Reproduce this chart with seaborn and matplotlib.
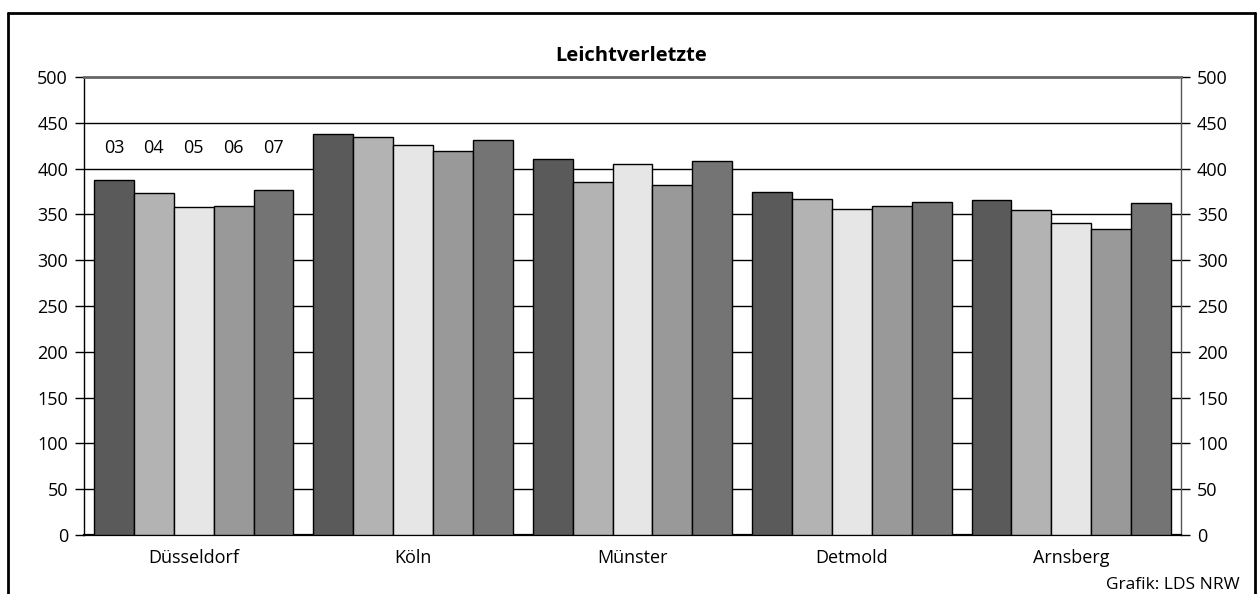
import matplotlib
matplotlib.use("Agg")
import matplotlib.pyplot as plt
from matplotlib.lines import Line2D
import seaborn as sns
import pandas as pd

# Leichtverletzte je Regierungsbezirk, Jahre 2003-2007
regions = ["Düsseldorf", "Köln", "Münster", "Detmold", "Arnsberg"]
years = ["03", "04", "05", "06", "07"]
values_03 = [388, 438, 410, 375, 366]
values_04 = [373, 434, 385, 367, 355]
values_05 = [358, 426, 405, 356, 341]
values_06 = [359, 419, 382, 359, 334]
values_07 = [377, 431, 408, 364, 362]
bar_colors = ["#5a5a5a", "#b3b3b3", "#e6e6e6", "#999999", "#747474"]

rows = []
for year, vals in zip(years, [values_03, values_04, values_05, values_06, values_07]):
    for region, v in zip(regions, vals):
        rows.append({"region": region, "year": year, "value": v})
df = pd.DataFrame(rows)

sns.set_theme(style="white")
plt.rcParams["font.family"] = ["Open Sans", "DejaVu Sans"]
plt.rcParams["text.color"] = "black"
plt.rcParams["xtick.color"] = "black"
plt.rcParams["ytick.color"] = "black"

fig = plt.figure(figsize=(12.58, 5.94), dpi=100)
ax = fig.add_axes([84 / 1258, 1 - 535 / 594, (1181 - 84) / 1258, (535 - 77) / 594])

sns.barplot(data=df, x="region", y="value", hue="year", order=regions,
            hue_order=years, palette=bar_colors, saturation=1, width=0.909,
            gap=0, edgecolor="black", linewidth=1, legend=False, ax=ax,
            zorder=3)

ax.set_xlim(-0.5, 4.5)
ax.set_ylim(0, 500)
ax.set_yticks(range(0, 501, 50))
ax.set_xlabel("")
ax.set_ylabel("")

# horizontal grid behind bars
for yv in range(50, 500, 50):
    ax.axhline(yv, color="black", lw=1, zorder=1)

for side in ["left", "bottom"]:
    ax.spines[side].set_color("black")
ax.spines["left"].set_linewidth(1)
ax.spines["bottom"].set_linewidth(1.6)
ax.spines["right"].set_color("#555555")
ax.spines["right"].set_linewidth(1)
ax.spines["top"].set_color("#666666")
ax.spines["top"].set_linewidth(2)

ax.tick_params(axis="y", left=True, right=True, labelleft=True, labelright=True,
               direction="out", length=6.5, width=1, color="black",
               labelsize=13, pad=5)
ax.tick_params(axis="x", bottom=False, labelsize=13, pad=4)

# year labels above the first group, acting as legend
for year, cont in zip(years, ax.containers):
    bar = cont[0]
    ax.text(bar.get_x() + bar.get_width() / 2, 422, year, ha="center",
            va="center", fontsize=13, zorder=4)

fig.text(631 / 1258, 1 - 56 / 594, "Leichtverletzte", ha="center", va="center",
         fontsize=14.5, fontweight="bold")
fig.text(1240 / 1258, 1 - 585 / 594, "Grafik: LDS NRW", ha="right",
         va="center", fontsize=12.5)

# outer frame (open at the bottom)
x0, x1, yt = 8 / 1258, 1255 / 1258, 1 - 13 / 594
for xs, ys in [([x0, x1], [yt, yt]), ([x0, x0], [yt, -0.01]), ([x1, x1], [yt, -0.01])]:
    fig.add_artist(Line2D(xs, ys, transform=fig.transFigure, color="black", lw=2))

fig.savefig("out.png", dpi=100)
